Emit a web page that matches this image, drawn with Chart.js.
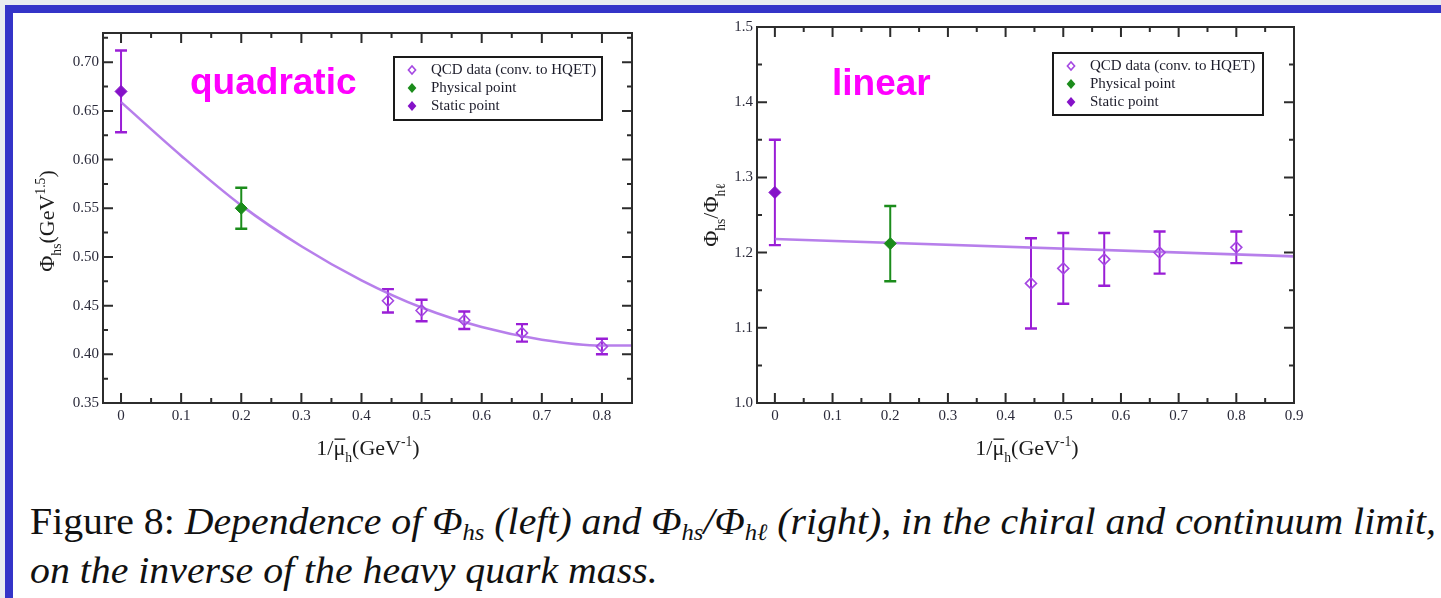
<!DOCTYPE html>
<html>
<head>
<meta charset="utf-8">
<script src="https://cdn.jsdelivr.net/npm/chart.js@4.4.1/dist/chart.umd.min.js"></script>
<style>
  html, body { margin: 0; padding: 0; width: 1441px; height: 598px; overflow: hidden; background: #e8ecf0; }
  #panel { position: absolute; left: 5px; top: 5px; width: 1436px; height: 593px; box-sizing: border-box;
           background: #fff; border-top: 8px solid #3434c8; border-left: 8px solid #3434c8; }
  canvas { position: absolute; top: 0; }
  #phiChart { left: 0; }
  #ratioChart { left: 690px; }
  .cap { position: absolute; left: 30px; white-space: nowrap; font-family: 'Liberation Serif', serif;
         font-size: 38px; color: #111; transform-origin: 0 50%; }
  .cap i { font-style: italic; }
  .cap sub { font-size: 0.62em; vertical-align: -0.25em; line-height: 0; }
  #cap1 { top: 499px; }
  #cap2 { top: 548px; }
</style>
</head>
<body>
<div id="panel"></div>
<canvas id="phiChart" width="690" height="470"></canvas>
<canvas id="ratioChart" width="751" height="470"></canvas>
<div class="cap" id="cap1">Figure 8: <i>Dependence of Φ<sub>hs</sub> (left) and Φ<sub>hs</sub>/Φ<sub>hℓ</sub> (right), in the chiral and continuum limit,</i></div>
<div class="cap" id="cap2"><i>on the inverse of the heavy quark mass.</i></div>

<script>
// inverse heavy quark mass 1/mu_h (GeV^-1)
const staticX = [0];
const physX = [0.2];
const qcdX = [0.444, 0.5, 0.571, 0.667, 0.8];

// left panel: Phi_hs (GeV^1.5)
const phiStatic = [0.670];
const phiStaticErr = [0.042];
const phiPhys = [0.550];
const phiPhysErr = [0.021];
const phiQcd = [0.455, 0.445, 0.435, 0.422, 0.408];
const phiQcdErr = [0.012, 0.011, 0.009, 0.009, 0.008];
const phiFitX = [0, 0.1, 0.2, 0.3, 0.4, 0.5, 0.6, 0.7, 0.8, 0.85];
const phiFit = [0.659, 0.604, 0.553, 0.511, 0.476, 0.448, 0.428, 0.415, 0.409, 0.409];

// right panel: Phi_hs / Phi_hl
const ratioStatic = [1.280];
const ratioStaticErr = [0.070];
const ratioPhys = [1.212];
const ratioPhysErr = [0.050];
const ratioQcd = [1.159, 1.179, 1.191, 1.200, 1.207];
const ratioQcdErr = [0.060, 0.047, 0.035, 0.028, 0.021];
const ratioFitX = [0, 0.9];
const ratioFit = [1.218, 1.195];

// axis ticks
const phiXTicks = [0, 0.1, 0.2, 0.3, 0.4, 0.5, 0.6, 0.7, 0.8];
const phiXLabels = ['0', '0.1', '0.2', '0.3', '0.4', '0.5', '0.6', '0.7', '0.8'];
const phiXMinor = [0.05, 0.15, 0.25, 0.35, 0.45, 0.55, 0.65, 0.75, 0.85];
const phiYTicks = [0.35, 0.40, 0.45, 0.50, 0.55, 0.60, 0.65, 0.70];
const phiYLabels = ['0.35', '0.40', '0.45', '0.50', '0.55', '0.60', '0.65', '0.70'];
const phiYMinor = [0.375, 0.425, 0.475, 0.525, 0.575, 0.625, 0.675, 0.725];
const ratioXTicks = [0, 0.1, 0.2, 0.3, 0.4, 0.5, 0.6, 0.7, 0.8, 0.9];
const ratioXLabels = ['0', '0.1', '0.2', '0.3', '0.4', '0.5', '0.6', '0.7', '0.8', '0.9'];
const ratioXMinor = [0.05, 0.15, 0.25, 0.35, 0.45, 0.55, 0.65, 0.75, 0.85];
const ratioYTicks = [1.0, 1.1, 1.2, 1.3, 1.4, 1.5];
const ratioYLabels = ['1.0', '1.1', '1.2', '1.3', '1.4', '1.5'];
const ratioYMinor = [1.05, 1.15, 1.25, 1.35, 1.45];

const legendLabels = ['QCD data (conv. to HQET)', 'Physical point', 'Static point'];

const PURPLE = '#9a1ed6';
const PURPLE_FILL = '#8512c8';
const PURPLE_OPEN = '#a548e2';
const GREEN = '#1b8c1b';
const FIT = 'rgba(170, 105, 232, 0.85)';
const SERIF = "'Liberation Serif', serif";

const toPoints = (xs, ys) => xs.map((x, i) => ({ x: x, y: ys[i] }));

function diamond(ctx, x, y, r, fill, stroke) {
  ctx.beginPath();
  ctx.moveTo(x - r, y);
  ctx.lineTo(x, y - r * 1.15);
  ctx.lineTo(x + r, y);
  ctx.lineTo(x, y + r * 1.15);
  ctx.closePath();
  if (fill) { ctx.fillStyle = fill; ctx.fill(); }
  if (stroke) { ctx.strokeStyle = stroke; ctx.lineWidth = 1.6; ctx.stroke(); }
}

// text with sub/superscripts and overbars, baseline at y, starting at x
function richWidth(ctx, parts, size) {
  let w = 0;
  parts.forEach(p => {
    ctx.font = ((p.sub || p.sup) ? size * 0.62 : size) + 'px ' + SERIF;
    w += ctx.measureText(p.t).width;
  });
  return w;
}
function drawRich(ctx, parts, size, x, y) {
  let cx = x;
  parts.forEach(p => {
    const s = (p.sub || p.sup) ? size * 0.62 : size;
    ctx.font = s + 'px ' + SERIF;
    const dy = p.sub ? size * 0.3 : (p.sup ? -size * 0.42 : 0);
    ctx.fillText(p.t, cx, y + dy);
    const w = ctx.measureText(p.t).width;
    if (p.bar) {
      ctx.beginPath();
      ctx.lineWidth = 1.4;
      ctx.moveTo(cx + 1, y - size * 0.72);
      ctx.lineTo(cx + w, y - size * 0.72);
      ctx.stroke();
    }
    cx += w;
  });
}

const xTitle = [{ t: '1/' }, { t: 'μ', bar: true }, { t: 'h', sub: true }, { t: '(GeV' }, { t: '-1', sup: true }, { t: ')' }];
const phiTitle = [{ t: 'Φ' }, { t: 'hs', sub: true }, { t: '(GeV' }, { t: '1.5', sup: true }, { t: ')' }];
const ratioTitle = [{ t: 'Φ' }, { t: 'hs', sub: true }, { t: '/Φ' }, { t: 'hℓ', sub: true }];

const decor = {
  id: 'decor',
  beforeDatasetsDraw(chart) {
    const ctx = chart.ctx, xs = chart.scales.x, ys = chart.scales.y;
    ctx.save();
    chart.data.datasets.forEach(ds => {
      if (!ds.errors) return;
      ctx.strokeStyle = ds.errorColor;
      ds.data.forEach((p, j) => {
        const px = xs.getPixelForValue(p.x);
        const top = ys.getPixelForValue(p.y + ds.errors[j]);
        const bot = ys.getPixelForValue(p.y - ds.errors[j]);
        ctx.lineWidth = 2;
        ctx.beginPath();
        ctx.moveTo(px, top); ctx.lineTo(px, bot);
        ctx.stroke();
        ctx.lineWidth = 2.4;
        ctx.beginPath();
        ctx.moveTo(px - 6, top); ctx.lineTo(px + 6, top);
        ctx.moveTo(px - 6, bot); ctx.lineTo(px + 6, bot);
        ctx.stroke();
      });
    });
    ctx.restore();
  },
  afterDraw(chart, args, o) {
    const ctx = chart.ctx, a = chart.chartArea, xs = chart.scales.x, ys = chart.scales.y;
    ctx.save();
    ctx.strokeStyle = '#2c2c2c';
    ctx.lineWidth = 2;
    ctx.strokeRect(a.left, a.top, a.right - a.left, a.bottom - a.top);

    // inward ticks on all four sides
    const tick = (vals, len) => {
      ctx.beginPath();
      vals.forEach(v => {
        const px = xs.getPixelForValue(v);
        if (px < a.left || px > a.right) return;
        ctx.moveTo(px, a.bottom); ctx.lineTo(px, a.bottom - len);
        ctx.moveTo(px, a.top); ctx.lineTo(px, a.top + len);
      });
      ctx.stroke();
    };
    const ytick = (vals, len) => {
      ctx.beginPath();
      vals.forEach(v => {
        const py = ys.getPixelForValue(v);
        if (py < a.top || py > a.bottom) return;
        ctx.moveTo(a.left, py); ctx.lineTo(a.left + len, py);
        ctx.moveTo(a.right, py); ctx.lineTo(a.right - len, py);
      });
      ctx.stroke();
    };
    tick(o.xMajor, 10); tick(o.xMinor, 5);
    ytick(o.yMajor, 10); ytick(o.yMinor, 5);

    // fit label
    ctx.fillStyle = '#ff00ff';
    ctx.font = "bold 37px 'Liberation Sans', Arial, sans-serif";
    ctx.textBaseline = 'alphabetic';
    ctx.fillText(o.label, o.labelX, o.labelY);

    // legend box
    const L = o.legend;
    ctx.strokeStyle = '#1a1a1a';
    ctx.lineWidth = 2;
    ctx.fillStyle = '#fff';
    ctx.fillRect(L.x, L.y, L.w, L.h);
    ctx.strokeRect(L.x, L.y, L.w, L.h);
    ctx.font = '15px ' + SERIF;
    ctx.textBaseline = 'middle';
    const rows = [
      { fill: null, stroke: PURPLE_OPEN },
      { fill: GREEN, stroke: null },
      { fill: PURPLE_FILL, stroke: null }
    ];
    rows.forEach((r, i) => {
      const cy = L.y + 13 + i * 18;
      diamond(ctx, L.x + 18, cy, r.stroke ? 3.6 : 4.4, r.fill, r.stroke);
      ctx.fillStyle = '#1c1c2a';
      ctx.fillText(legendLabels[i], L.x + 37, cy);
    });

    // axis titles
    ctx.fillStyle = '#1c1c1c';
    ctx.strokeStyle = '#1c1c1c';
    ctx.textBaseline = 'alphabetic';
    const xw = richWidth(ctx, xTitle, 22);
    drawRich(ctx, xTitle, 22, o.xTitleX - xw / 2, 455);
    ctx.translate(o.yTitleX, o.yTitleY);
    ctx.rotate(-Math.PI / 2);
    const yw = richWidth(ctx, o.yTitle, 22);
    drawRich(ctx, o.yTitle, 22, -yw / 2, 0);
    ctx.restore();
  }
};

function makeScales(xMin, xMax, xTicks, xLabels, yMin, yMax, yTicks, yLabels, yWidth) {
  const tickFont = { family: SERIF, size: 15 };
  return {
    x: {
      type: 'linear', min: xMin, max: xMax,
      grid: { display: false, drawTicks: false },
      border: { display: false },
      afterBuildTicks: s => { s.ticks = xTicks.map(v => ({ value: v })); },
      afterFit: s => { s.height = 67; },
      ticks: { font: tickFont, color: '#2a2a3a', padding: 4, maxRotation: 0, callback: (v, i) => xLabels[i] }
    },
    y: {
      type: 'linear', min: yMin, max: yMax,
      grid: { display: false, drawTicks: false },
      border: { display: false },
      afterBuildTicks: s => { s.ticks = yTicks.map(v => ({ value: v })); },
      afterFit: s => { s.width = yWidth; },
      ticks: { font: tickFont, color: '#2a2a3a', padding: 4, callback: (v, i) => yLabels[i] }
    }
  };
}

function pointSets(sx, sy, se, px, py, pe, qx, qy, qe, fx, fy) {
  return [
    { label: legendLabels[2], data: toPoints(sx, sy), errors: se, errorColor: PURPLE,
      pointStyle: 'rectRot', pointRadius: 6, backgroundColor: PURPLE_FILL, borderColor: PURPLE_FILL, borderWidth: 1 },
    { label: legendLabels[1], data: toPoints(px, py), errors: pe, errorColor: GREEN,
      pointStyle: 'rectRot', pointRadius: 6, backgroundColor: GREEN, borderColor: GREEN, borderWidth: 1 },
    { label: legendLabels[0], data: toPoints(qx, qy), errors: qe, errorColor: PURPLE,
      pointStyle: 'rectRot', pointRadius: 5.5, backgroundColor: 'rgba(255,255,255,0)', borderColor: PURPLE_OPEN, borderWidth: 1.6 },
    { type: 'line', label: 'fit', data: toPoints(fx, fy), borderColor: FIT, borderWidth: 2.6,
      pointRadius: 0, cubicInterpolationMode: 'monotone', fill: false }
  ];
}

const common = {
  responsive: false,
  animation: false,
  events: []
};

new Chart(document.getElementById('phiChart'), {
  type: 'scatter',
  data: { datasets: pointSets(staticX, phiStatic, phiStaticErr, physX, phiPhys, phiPhysErr,
                              qcdX, phiQcd, phiQcdErr, phiFitX, phiFit) },
  options: Object.assign({}, common, {
    layout: { padding: { left: 0, top: 33, right: 58, bottom: 0 } },
    scales: makeScales(-0.03, 0.85, phiXTicks, phiXLabels, 0.35, 0.73, phiYTicks, phiYLabels, 103),
    plugins: {
      legend: { display: false },
      tooltip: { enabled: false },
      decor: {
        xMajor: phiXTicks, xMinor: phiXMinor, yMajor: phiYTicks, yMinor: phiYMinor,
        label: 'quadratic', labelX: 190, labelY: 94,
        legend: { x: 394, y: 57, w: 208, h: 63 },
        xTitleX: 368, yTitleX: 54, yTitleY: 221, yTitle: phiTitle
      }
    }
  }),
  plugins: [decor]
});

new Chart(document.getElementById('ratioChart'), {
  type: 'scatter',
  data: { datasets: pointSets(staticX, ratioStatic, ratioStaticErr, physX, ratioPhys, ratioPhysErr,
                              qcdX, ratioQcd, ratioQcdErr, ratioFitX, ratioFit) },
  options: Object.assign({}, common, {
    layout: { padding: { left: 0, top: 27, right: 147, bottom: 0 } },
    scales: makeScales(-0.031, 0.9, ratioXTicks, ratioXLabels, 1.0, 1.5, ratioYTicks, ratioYLabels, 67),
    plugins: {
      legend: { display: false },
      tooltip: { enabled: false },
      decor: {
        xMajor: ratioXTicks, xMinor: ratioXMinor, yMajor: ratioYTicks, yMinor: ratioYMinor,
        label: 'linear', labelX: 142, labelY: 95,
        legend: { x: 363, y: 53, w: 210, h: 62 },
        xTitleX: 337, yTitleX: 28, yTitleY: 215, yTitle: ratioTitle
      }
    }
  }),
  plugins: [decor]
});

// stretch the caption so the first line spans the figure width
const cap1 = document.getElementById('cap1');
const cap2 = document.getElementById('cap2');
const k = 1406 / cap1.getBoundingClientRect().width;
cap1.style.transform = 'scaleX(' + k + ')';
cap2.style.transform = 'scaleX(' + k + ')';
</script>
</body>
</html>
